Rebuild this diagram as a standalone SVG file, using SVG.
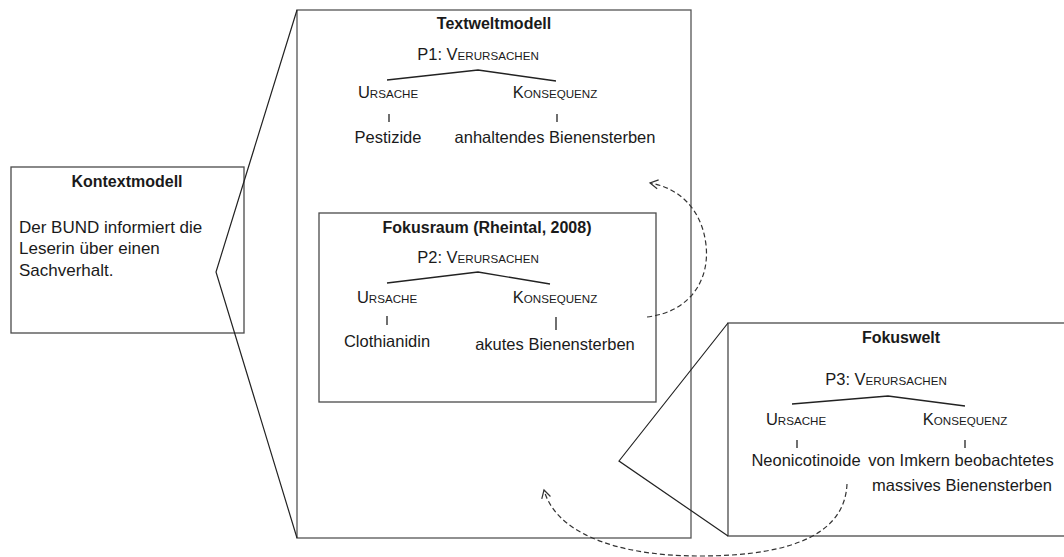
<svg xmlns="http://www.w3.org/2000/svg" width="1064" height="557" viewBox="0 0 1064 557">
<style>
.box{fill:#fff;stroke:#4a4a4a;stroke-width:1.3}
.zl{fill:none;stroke:#222;stroke-width:1.2}
.tl{fill:none;stroke:#222;stroke-width:1.3}
.dash{fill:none;stroke:#333;stroke-width:1.2;stroke-dasharray:5 3}
text{font-family:"Liberation Sans",Arial,sans-serif;fill:#1a1a1a;font-size:16.5px}
.t{font-weight:bold;font-size:16px;text-anchor:middle}
.c{text-anchor:middle}
.sc{font-size:11.6px}
</style>
<defs>
<marker id="ah" viewBox="-10 -6 12 12" refX="0" refY="0" markerWidth="12" markerHeight="12" markerUnits="userSpaceOnUse" orient="auto">
<path d="M -8 -4.5 L 0 0 L -8 4.5" fill="none" stroke="#333" stroke-width="1.2"/>
</marker>
</defs>

<g id="textweltmodell">
<rect class="box" x="297" y="10" width="394" height="528" style="stroke:#555"/>
<text class="t" x="494" y="29">Textweltmodell</text>
<text class="c" x="478" y="60">P1: V<tspan class="sc">ERURSACHEN</tspan></text>
<polyline class="tl" points="387,80 478,70 556,81"/>
<text class="c" x="388" y="98">U<tspan class="sc">RSACHE</tspan></text>
<text class="c" x="555" y="98">K<tspan class="sc">ONSEQUENZ</tspan></text>
<line class="tl" x1="389" y1="114" x2="389" y2="122"/>
<line class="tl" x1="557" y1="114" x2="557" y2="122"/>
<text class="c" x="388" y="143">Pestizide</text>
<text class="c" x="555" y="143">anhaltendes Bienensterben</text>
</g>

<g id="kontextmodell">
<rect class="box" x="11" y="167" width="233" height="166"/>
<text class="t" x="127" y="187">Kontextmodell</text>
<text x="19" y="233" style="font-size:17px">Der BUND informiert die</text>
<text x="19" y="254" style="font-size:17px">Leserin über einen</text>
<text x="19" y="276" style="font-size:17px">Sachverhalt.</text>
</g>

<g id="fokusraum">
<rect class="box" x="319" y="213" width="337" height="189"/>
<text class="t" x="487" y="233">Fokusraum (Rheintal, 2008)</text>
<text class="c" x="478" y="263">P2: V<tspan class="sc">ERURSACHEN</tspan></text>
<polyline class="tl" points="387,283 478,272 550,284"/>
<text class="c" x="387" y="303">U<tspan class="sc">RSACHE</tspan></text>
<text class="c" x="555" y="303">K<tspan class="sc">ONSEQUENZ</tspan></text>
<line class="tl" x1="387" y1="316" x2="387" y2="325"/>
<line class="tl" x1="556" y1="317" x2="556" y2="330"/>
<text class="c" x="387" y="347">Clothianidin</text>
<text class="c" x="555" y="350">akutes Bienensterben</text>
</g>

<g id="fokuswelt">
<rect class="box" x="728" y="323" width="340" height="213"/>
<text class="t" x="901" y="343">Fokuswelt</text>
<text class="c" x="886" y="385">P3: V<tspan class="sc">ERURSACHEN</tspan></text>
<polyline class="tl" points="792,404 888,396 965,406"/>
<text class="c" x="796" y="425">U<tspan class="sc">RSACHE</tspan></text>
<text class="c" x="965" y="425">K<tspan class="sc">ONSEQUENZ</tspan></text>
<line class="tl" x1="797" y1="440" x2="797" y2="448"/>
<line class="tl" x1="965" y1="440" x2="965" y2="448"/>
<text class="c" x="806" y="466">Neonicotinoide</text>
<text class="c" x="961" y="466">von Imkern beobachtetes</text>
<text class="c" x="962" y="491">massives Bienensterben</text>
</g>

<g id="connectors">
<polyline class="zl" points="297,10 216,272 297,538"/>
<polyline class="zl" points="728,323 619,461 728,536"/>
<path class="dash" d="M 647 317 C 690 312, 710 280, 706 245 C 702 210, 680 188, 650 183" marker-end="url(#ah)"/>
<path class="dash" d="M 847 484 C 845 530, 800 556, 700 556 C 610 556, 555 530, 544 490" marker-end="url(#ah)"/>
</g>
</svg>
